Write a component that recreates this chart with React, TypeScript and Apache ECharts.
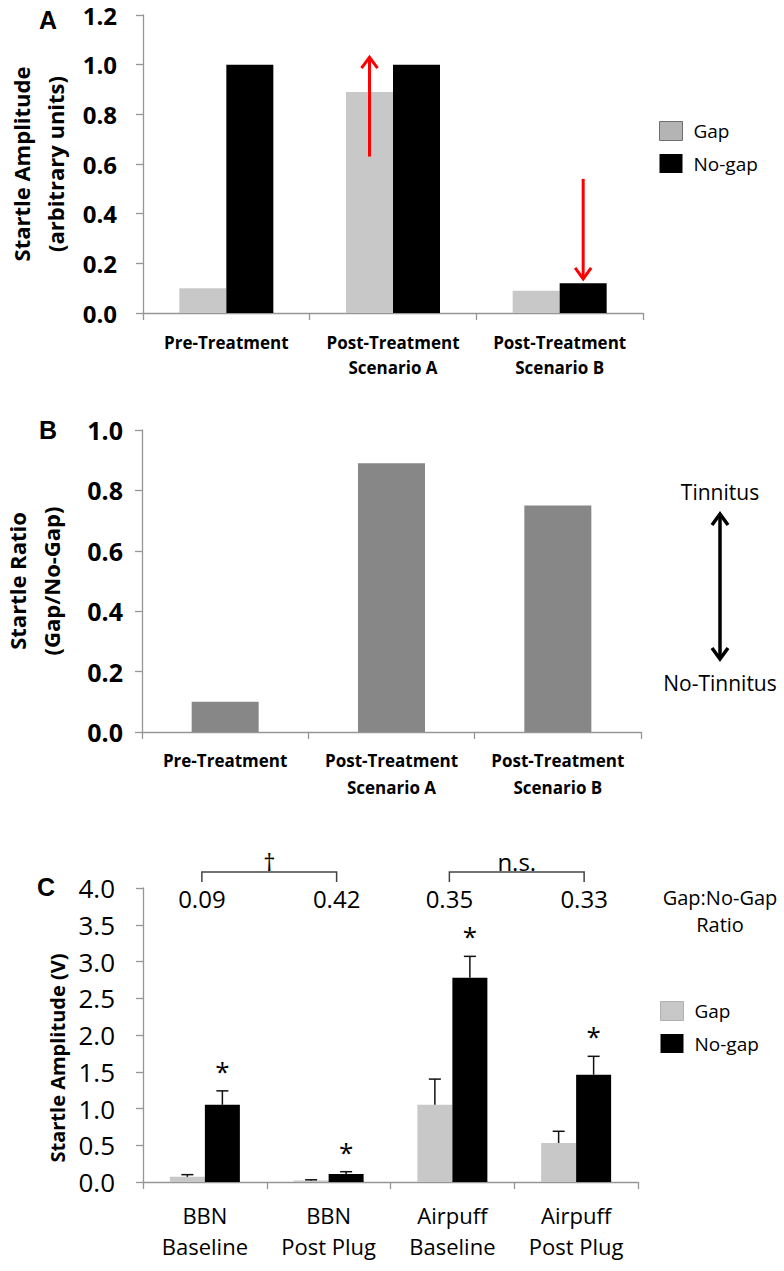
import React, { useEffect, useRef } from "react";
import * as echarts from "echarts";

// ---------- Data ----------
const catsAB = ["Pre-Treatment", "Post-Treatment\nScenario A", "Post-Treatment\nScenario B"];
const gapA = [0.1, 0.89, 0.09];
const noGapA = [1.0, 1.0, 0.12];
// red arrows in panel A: [category index, from value, to value]
const arrowsA = [
  [1, 0.63, 1.03],
  [2, 0.54, 0.137],
];
const arrowBarA = ["Gap", "No-gap"];

const ratioB = [0.1, 0.89, 0.75];

const catsC = ["BBN\nBaseline", "BBN\nPost Plug", "Airpuff\nBaseline", "Airpuff\nPost Plug"];
const gapC = [0.07, 0.02, 1.05, 0.53];
const gapErrC = [0.03, 0.01, 0.35, 0.16];
const noGapC = [1.05, 0.11, 2.78, 1.46];
const noGapErrC = [0.19, 0.03, 0.29, 0.25];
const sigC = ["*", "*", "*", "*"];
const ratioTextC = ["0.09", "0.42", "0.35", "0.33"];
const bracketsC = [
  [0, 1, "†"],
  [2, 3, "n.s."],
];

// ---------- Style ----------
const FONT = "'Open Sans', sans-serif";
const AX = "#969696";
const GAP_COLOR = "#c8c8c8";
const BW_A = 47;
const BW_B = 67;
const BW_C = 35;
const C_TOP = 4.0;

function axisCommon() {
  return {
    axisLine: { show: true, lineStyle: { color: AX, width: 1.3 } },
    axisTick: { show: true, length: 7, lineStyle: { color: AX, width: 1.3 } },
    splitLine: { show: false },
  };
}

const letterStyle = (t: string) => ({
  text: t,
  font: "bold 25px Arial, 'Liberation Sans', sans-serif",
  fill: "#000",
  textVerticalAlign: "middle",
  verticalAlign: "middle",
});

export default function App() {
  const ref = useRef<HTMLDivElement>(null);

  useEffect(() => {
    if (!ref.current) return;
    const chart = echarts.init(ref.current, undefined, { renderer: "svg" });

    const fmt1 = (v: number) => v.toFixed(1);

    const option: any = {
      animation: false,
      backgroundColor: "#ffffff",
      textStyle: { fontFamily: FONT },
      grid: [
        { left: 143, right: 141, top: 15, bottom: 958, outerBoundsMode: "none", containLabel: false },
        { left: 142, right: 143, top: 430, bottom: 539, outerBoundsMode: "none", containLabel: false },
        { left: 143, right: 146, top: 888, bottom: 89, outerBoundsMode: "none", containLabel: false },
      ],
      xAxis: [
        {
          gridIndex: 0,
          type: "category",
          data: catsAB,
          ...axisCommon(),
          axisLabel: {
            interval: 0,
            margin: 17,
            fontSize: 17,
            fontWeight: "bold",
            color: "#000",
            lineHeight: 25,
            fontFamily: FONT,
          },
        },
        {
          gridIndex: 1,
          type: "category",
          data: catsAB,
          ...axisCommon(),
          axisLabel: {
            interval: 0,
            margin: 15,
            fontSize: 17,
            fontWeight: "bold",
            color: "#000",
            lineHeight: 27,
            fontFamily: FONT,
          },
        },
        {
          gridIndex: 2,
          type: "category",
          data: catsC,
          ...axisCommon(),
          axisLabel: {
            interval: 0,
            margin: 17,
            fontSize: 22,
            color: "#000",
            lineHeight: 31,
            fontFamily: FONT,
          },
        },
      ],
      yAxis: [
        {
          gridIndex: 0,
          type: "value",
          min: 0,
          max: 1.2,
          interval: 0.2,
          ...axisCommon(),
          axisLabel: { formatter: fmt1, fontSize: 24, fontWeight: "bold", margin: 26, color: "#000", fontFamily: FONT },
          name: "Startle Amplitude\n(arbitrary units)",
          nameLocation: "middle",
          nameRotate: 90,
          nameGap: 71,
          nameTextStyle: { fontSize: 22, fontWeight: "bold", lineHeight: 34, color: "#000", fontFamily: FONT },
        },
        {
          gridIndex: 1,
          type: "value",
          min: 0,
          max: 1.0,
          interval: 0.2,
          ...axisCommon(),
          axisLabel: { formatter: fmt1, fontSize: 25, fontWeight: "bold", margin: 19, color: "#000", fontFamily: FONT },
          name: "Startle Ratio\n(Gap/No-Gap)",
          nameLocation: "middle",
          nameRotate: 90,
          nameGap: 74,
          nameTextStyle: { fontSize: 22, fontWeight: "bold", lineHeight: 34, color: "#000", fontFamily: FONT },
        },
        {
          gridIndex: 2,
          type: "value",
          min: 0,
          max: C_TOP,
          interval: 0.5,
          ...axisCommon(),
          axisLabel: { formatter: fmt1, fontSize: 26, margin: 28, color: "#000", fontFamily: FONT },
          name: "Startle Amplitude (V)",
          nameLocation: "middle",
          nameRotate: 90,
          nameGap: 56,
          nameTextStyle: {
            fontSize: 20,
            fontWeight: "bold",
            color: "#000",
            fontFamily: FONT,
            padding: [0, 46, 0, 0],
          },
        },
      ],
      legend: [
        {
          left: 659,
          top: 121,
          padding: 0,
          orient: "vertical",
          icon: "rect",
          itemWidth: 23,
          itemHeight: 19,
          itemGap: 13,
          selectedMode: false,
          textStyle: { fontSize: 19, color: "#000", fontFamily: FONT, padding: [0, 0, 0, 6] },
          data: [
            { name: "Gap", itemStyle: { color: "#b4b4b4", borderColor: "#6f6f6f", borderWidth: 1 } },
            { name: "No-gap", itemStyle: { color: "#000" } },
          ],
        },
        {
          left: 660,
          top: 1001,
          padding: 0,
          orient: "vertical",
          icon: "rect",
          itemWidth: 23,
          itemHeight: 19,
          itemGap: 13,
          selectedMode: false,
          textStyle: { fontSize: 19, color: "#000", fontFamily: FONT, padding: [0, 0, 0, 6] },
          data: [
            { name: "Gap", itemStyle: { color: GAP_COLOR, borderColor: "#b0b0b0", borderWidth: 1 } },
            { name: "No-gap", itemStyle: { color: "#000" } },
          ],
        },
      ],
      series: [
        // Panel A
        {
          type: "bar",
          name: "Gap",
          xAxisIndex: 0,
          yAxisIndex: 0,
          data: gapA,
          barWidth: BW_A,
          barGap: "0%",
          itemStyle: { color: GAP_COLOR },
        },
        {
          type: "bar",
          name: "No-gap",
          xAxisIndex: 0,
          yAxisIndex: 0,
          data: noGapA,
          barWidth: BW_A,
          barGap: "0%",
          itemStyle: { color: "#000" },
        },
        {
          type: "custom",
          name: "arrowsA",
          xAxisIndex: 0,
          yAxisIndex: 0,
          clip: false,
          z: 10,
          encode: { x: 0, y: [1, 2] },
          data: arrowsA,
          renderItem: (params: any, api: any) => {
            const c = api.value(0);
            const a = api.coord([c, api.value(1)]);
            const b = api.coord([c, api.value(2)]);
            const off = arrowBarA[params.dataIndex] === "Gap" ? -BW_A / 2 : BW_A / 2;
            const x = a[0] + off;
            const dir = b[1] < a[1] ? 1 : -1;
            return {
              type: "group",
              children: [
                {
                  type: "line",
                  shape: { x1: x, y1: a[1], x2: x, y2: b[1] + dir * 2 },
                  style: { stroke: "#ff0000", lineWidth: 3 },
                },
                {
                  type: "polyline",
                  shape: {
                    points: [
                      [x - 8, b[1] + dir * 11],
                      [x, b[1]],
                      [x + 8, b[1] + dir * 11],
                    ],
                  },
                  style: { stroke: "#ff0000", lineWidth: 3, fill: "none" },
                },
              ],
            };
          },
        },
        // Panel B
        {
          type: "bar",
          name: "Ratio",
          xAxisIndex: 1,
          yAxisIndex: 1,
          data: ratioB,
          barWidth: BW_B,
          itemStyle: { color: "#878787" },
        },
        // Panel C
        {
          type: "bar",
          name: "Gap",
          xAxisIndex: 2,
          yAxisIndex: 2,
          data: gapC,
          barWidth: BW_C,
          barGap: "0%",
          itemStyle: { color: GAP_COLOR },
        },
        {
          type: "bar",
          name: "No-gap",
          xAxisIndex: 2,
          yAxisIndex: 2,
          data: noGapC,
          barWidth: BW_C,
          barGap: "0%",
          itemStyle: { color: "#000" },
        },
        {
          type: "custom",
          name: "gapErr",
          xAxisIndex: 2,
          yAxisIndex: 2,
          clip: false,
          z: 10,
          encode: { x: 0, y: 1 },
          data: gapC.map((v, i) => [i, v, gapErrC[i]]),
          renderItem: (params: any, api: any) => {
            const c = api.value(0);
            const v = api.value(1);
            const e = api.value(2);
            const p0 = api.coord([c, v]);
            const p1 = api.coord([c, v + e]);
            const x = p0[0] - BW_C / 2;
            return {
              type: "group",
              children: [
                { type: "line", shape: { x1: x, y1: p0[1], x2: x, y2: p1[1] }, style: { stroke: "#111", lineWidth: 1.5 } },
                { type: "line", shape: { x1: x - 6, y1: p1[1], x2: x + 6, y2: p1[1] }, style: { stroke: "#111", lineWidth: 1.5 } },
              ],
            };
          },
        },
        {
          type: "custom",
          name: "noGapErr",
          xAxisIndex: 2,
          yAxisIndex: 2,
          clip: false,
          z: 10,
          encode: { x: 0, y: 1 },
          data: noGapC.map((v, i) => [i, v, noGapErrC[i]]),
          renderItem: (params: any, api: any) => {
            const c = api.value(0);
            const v = api.value(1);
            const e = api.value(2);
            const p0 = api.coord([c, v]);
            const p1 = api.coord([c, v + e]);
            const x = p0[0] + BW_C / 2;
            return {
              type: "group",
              children: [
                { type: "line", shape: { x1: x, y1: p0[1], x2: x, y2: p1[1] }, style: { stroke: "#111", lineWidth: 1.5 } },
                { type: "line", shape: { x1: x - 6, y1: p1[1], x2: x + 6, y2: p1[1] }, style: { stroke: "#111", lineWidth: 1.5 } },
                {
                  type: "text",
                  x: x,
                  y: p1[1] - 7,
                  style: {
                    text: sigC[params.dataIndex],
                    fill: "#000",
                    font: `26px ${FONT}`,
                    align: "center",
                    verticalAlign: "bottom",
                    textAlign: "center",
                    textVerticalAlign: "bottom",
                  },
                },
              ],
            };
          },
        },
        {
          type: "custom",
          name: "ratioText",
          xAxisIndex: 2,
          yAxisIndex: 2,
          clip: false,
          z: 10,
          encode: { x: 0, y: 1 },
          data: ratioTextC.map((_, i) => [i, C_TOP]),
          renderItem: (params: any, api: any) => {
            const i = api.value(0);
            const p = api.coord([i, api.value(1)]);
            const shift = i % 2 === 0 ? -3 : 8;
            return {
              type: "text",
              x: p[0] + shift,
              y: p[1] + 10,
              style: {
                text: ratioTextC[params.dataIndex],
                fill: "#000",
                font: `24px ${FONT}`,
                align: "center",
                verticalAlign: "middle",
                textAlign: "center",
                textVerticalAlign: "middle",
              },
            };
          },
        },
        {
          type: "custom",
          name: "brackets",
          xAxisIndex: 2,
          yAxisIndex: 2,
          clip: false,
          z: 10,
          encode: { x: 0, y: 2 },
          data: bracketsC.map((b) => [b[0], b[1], C_TOP]),
          renderItem: (params: any, api: any) => {
            const a = api.coord([api.value(0), api.value(2)]);
            const b = api.coord([api.value(1), api.value(2)]);
            const x1 = a[0] - 3;
            const x2 = b[0] + 8;
            const yTop = a[1] - 16;
            const yLeg = a[1] - 6;
            const label = String(bracketsC[params.dataIndex][2]);
            return {
              type: "group",
              children: [
                {
                  type: "polyline",
                  shape: { points: [[x1, yLeg], [x1, yTop], [x2, yTop], [x2, yLeg]] },
                  style: { stroke: "#444", lineWidth: 1.5, fill: "none" },
                },
                {
                  type: "text",
                  x: (x1 + x2) / 2,
                  y: yTop - 11,
                  style: {
                    text: label,
                    fill: "#000",
                    font: `24px ${FONT}`,
                    align: "center",
                    verticalAlign: "middle",
                    textAlign: "center",
                    textVerticalAlign: "middle",
                  },
                },
              ],
            };
          },
        },
      ],
      graphic: [
        { type: "text", x: 39, y: 20, style: letterStyle("A") },
        { type: "text", x: 39, y: 430, style: letterStyle("B") },
        { type: "text", x: 37, y: 887, style: letterStyle("C") },
        {
          type: "text",
          x: 720,
          y: 492,
          style: { text: "Tinnitus", font: `21px ${FONT}`, fill: "#000", textAlign: "center", align: "center", textVerticalAlign: "middle", verticalAlign: "middle" },
        },
        {
          type: "text",
          x: 720,
          y: 683,
          style: { text: "No-Tinnitus", font: `21px ${FONT}`, fill: "#000", textAlign: "center", align: "center", textVerticalAlign: "middle", verticalAlign: "middle" },
        },
        {
          type: "line",
          shape: { x1: 720, y1: 516, x2: 720, y2: 657 },
          style: { stroke: "#000", lineWidth: 3.5 },
        },
        {
          type: "polyline",
          shape: { points: [[712, 525], [720, 514], [728, 525]] },
          style: { stroke: "#000", lineWidth: 3.5, fill: "none" },
        },
        {
          type: "polyline",
          shape: { points: [[712, 648], [720, 659], [728, 648]] },
          style: { stroke: "#000", lineWidth: 3.5, fill: "none" },
        },
        {
          type: "text",
          x: 720,
          y: 911,
          style: {
            text: "Gap:No-Gap\nRatio",
            font: `20px ${FONT}`,
            lineHeight: 27,
            fill: "#000",
            textAlign: "center",
            align: "center",
            textVerticalAlign: "middle",
            verticalAlign: "middle",
          },
        },
      ],
    };

    chart.setOption(option);
    return () => {
      chart.dispose();
    };
  }, []);

  return (
    <div
      ref={ref}
      style={{ position: "absolute", left: 0, top: 0, width: 784, height: 1271, background: "#fff" }}
    />
  );
}
